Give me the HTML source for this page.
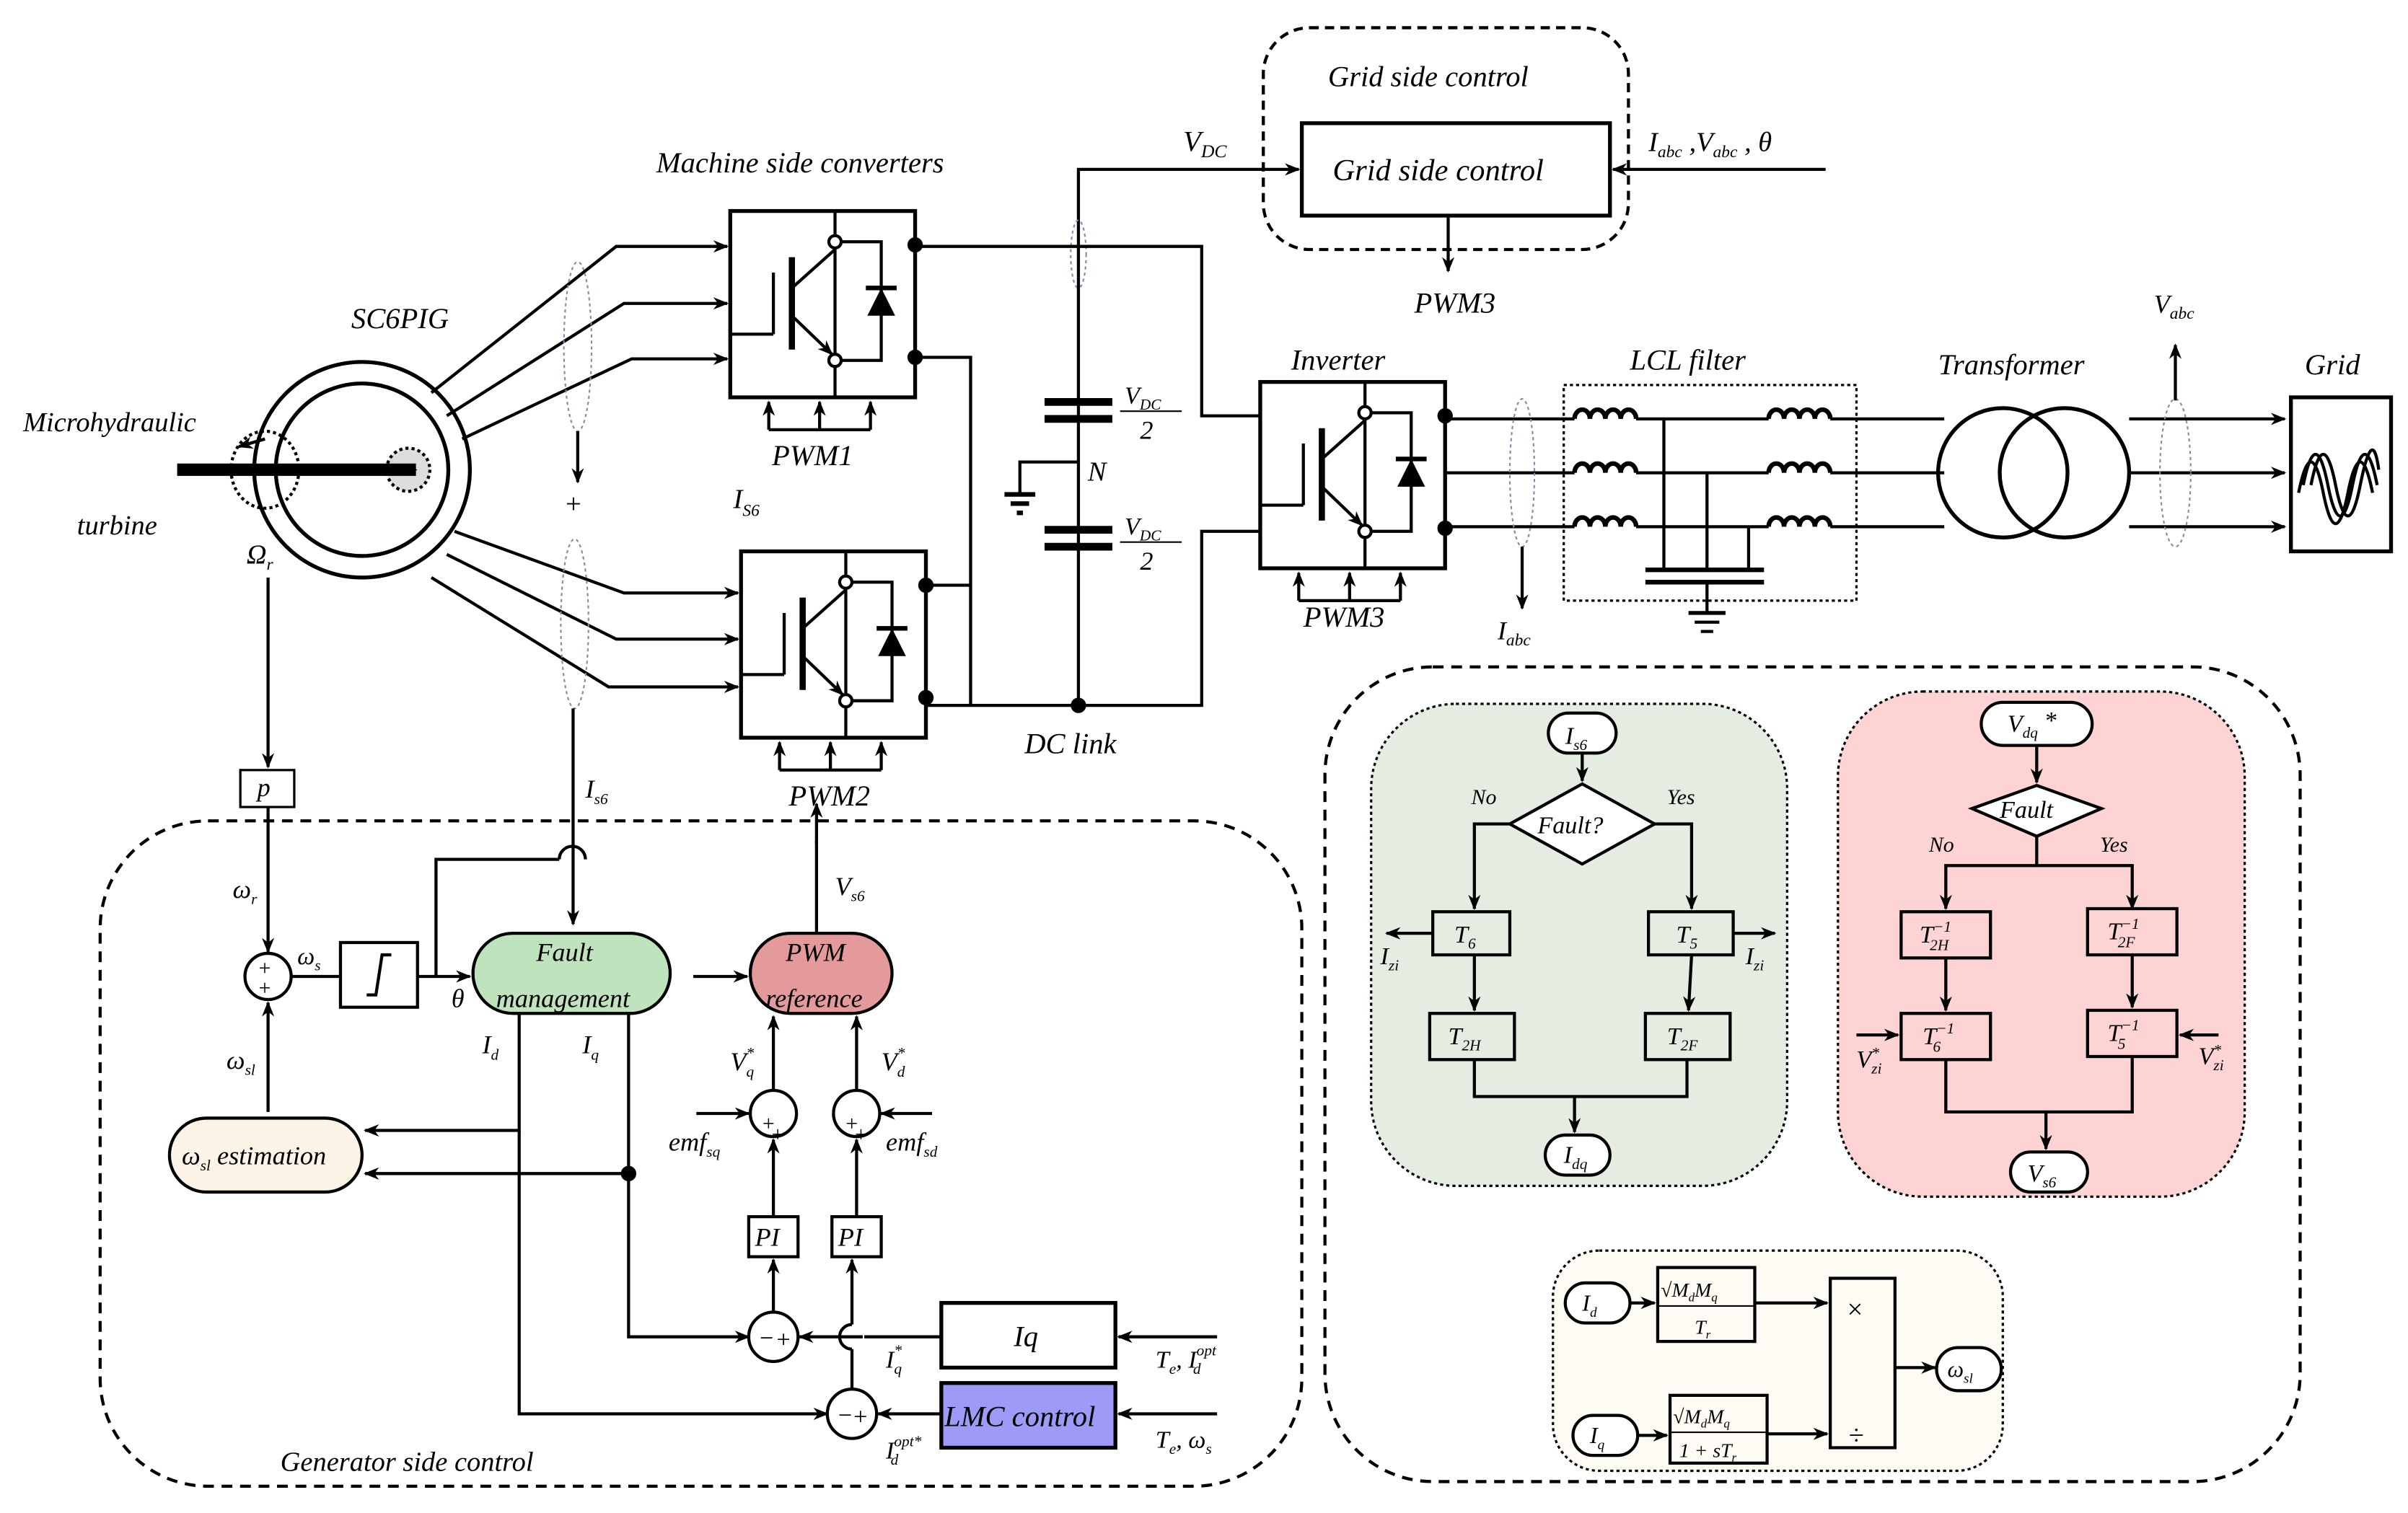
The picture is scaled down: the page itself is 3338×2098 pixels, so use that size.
<!DOCTYPE html>
<html><head><meta charset="utf-8"><style>
html,body{margin:0;padding:0;background:#fff}
svg{display:block}
text{font-family:"Liberation Serif",serif;font-style:italic;fill:#000}
</style></head><body>
<svg width="3338" height="2098" viewBox="0 0 1563 982.4" preserveAspectRatio="none" xmlns="http://www.w3.org/2000/svg">
<defs>
<marker id="a" markerWidth="10" markerHeight="8" refX="9" refY="4" orient="auto" markerUnits="userSpaceOnUse"><path d="M0,0 L10,4 L0,8 L3,4z" fill="#000"/></marker>
<g id="sw">
<rect x="0" y="0" width="120" height="121" fill="none" stroke="#000" stroke-width="2.5"/>
<line x1="68" y1="0" x2="68" y2="121" stroke="#000" stroke-width="2"/>
<line x1="40" y1="30" x2="40" y2="90" stroke="#000" stroke-width="4"/>
<line x1="28" y1="40" x2="28" y2="80" stroke="#000" stroke-width="2"/>
<line x1="0" y1="80" x2="28" y2="80" stroke="#000" stroke-width="2"/>
<line x1="40" y1="50" x2="68" y2="25" stroke="#000" stroke-width="2"/>
<line x1="40" y1="68" x2="66" y2="93" stroke="#000" stroke-width="2" marker-end="url(#a)"/>
<polyline points="68,20 98,20 98,97 68,97" fill="none" stroke="#000" stroke-width="2"/>
<path d="M89,68 L107,68 L98,50z" fill="#000"/><line x1="88" y1="50" x2="108" y2="50" stroke="#000" stroke-width="3"/>
<circle cx="68" cy="20" r="4" fill="#fff" stroke="#000" stroke-width="2"/>
<circle cx="68" cy="97" r="4" fill="#fff" stroke="#000" stroke-width="2"/>
<circle cx="120" cy="22" r="5" fill="#000"/><circle cx="120" cy="95" r="5" fill="#000"/>
<line x1="25" y1="142" x2="25" y2="124" stroke="#000" stroke-width="2" marker-end="url(#a)"/>
<line x1="58" y1="142" x2="58" y2="124" stroke="#000" stroke-width="2" marker-end="url(#a)"/>
<line x1="91" y1="142" x2="91" y2="124" stroke="#000" stroke-width="2" marker-end="url(#a)"/>
<line x1="25" y1="142" x2="91" y2="142" stroke="#000" stroke-width="2"/>
</g>
<g id="coil" fill="none" stroke="#000" stroke-width="3"><path d="M0,0 a5,6 0 0 1 10,0 a5,6 0 0 1 10,0 a5,6 0 0 1 10,0 a5,6 0 0 1 10,0"/></g>
</defs>

<g stroke="#000" stroke-width="2" fill="none">
<rect x="820" y="18" width="237" height="144" rx="30" stroke-dasharray="6,4"/>
<rect x="845" y="80" width="200" height="60" stroke-width="2.5"/>
<polyline points="700,180 700,110 843,110" marker-end="url(#a)"/>
<line x1="1185" y1="110" x2="1047" y2="110" marker-end="url(#a)"/>
<line x1="940" y1="140" x2="940" y2="176" marker-end="url(#a)"/>

<circle cx="235" cy="305" r="70" stroke-width="2.5"/>
<circle cx="235" cy="305" r="56" stroke-width="2.5"/>
<circle cx="265" cy="305" r="14" fill="#ddd" stroke-dasharray="2,2"/>
<line x1="115" y1="305" x2="270" y2="305" stroke-width="8" marker-end="url(#a)"/>
<ellipse cx="172" cy="305" rx="22" ry="25" stroke-dasharray="2,2"/>
<line x1="172" y1="285" x2="155" y2="290" marker-end="url(#a)"/>

<polyline points="280,255 400,160 472,160" marker-end="url(#a)"/>
<polyline points="290,270 405,197 472,197" marker-end="url(#a)"/>
<polyline points="300,285 410,233 472,233" marker-end="url(#a)"/>
<polyline points="295,345 405,385 479,385" marker-end="url(#a)"/>
<polyline points="290,360 400,415 479,415" marker-end="url(#a)"/>
<polyline points="280,375 395,446 479,446" marker-end="url(#a)"/>
<ellipse cx="375" cy="225" rx="9" ry="55" stroke="#88a" stroke-width="1" stroke-dasharray="2,2"/>
<ellipse cx="373" cy="405" rx="9" ry="55" stroke="#88a" stroke-width="1" stroke-dasharray="2,2"/>
<line x1="375" y1="280" x2="375" y2="313" marker-end="url(#a)"/>
<line x1="372" y1="460" x2="372" y2="600" marker-end="url(#a)"/>
<ellipse cx="700" cy="165" rx="5" ry="22" stroke="#88a" stroke-width="1" stroke-dasharray="2,2"/>

<polyline points="594,160 780,160 780,270 818,270"/>
<polyline points="594,232 630,232 630,458"/>
<polyline points="601,380 630,380"/>
<polyline points="601,458 780,458 780,345 818,345"/>
<line x1="700" y1="180" x2="700" y2="458"/>
<line x1="678" y1="261" x2="722" y2="261" stroke-width="5"/>
<line x1="678" y1="272" x2="722" y2="272" stroke-width="5"/>
<line x1="678" y1="344" x2="722" y2="344" stroke-width="5"/>
<line x1="678" y1="355" x2="722" y2="355" stroke-width="5"/>
<polyline points="700,300 662,300 662,320"/>
<line x1="652" y1="321" x2="672" y2="321" stroke-width="3"/>
<line x1="656" y1="327" x2="668" y2="327" stroke-width="3"/>
<line x1="660" y1="333" x2="664" y2="333" stroke-width="3"/>
</g>
<circle cx="700" cy="458" r="5"/>
<use href="#sw" x="474" y="137"/>
<use href="#sw" x="481" y="358"/>
<use href="#sw" x="818" y="248"/>
<line x1="530" y1="548" x2="530" y2="522" stroke="#000" stroke-width="2" marker-end="url(#a)"/>

<g stroke="#000" stroke-width="2" fill="none">
<line x1="938" y1="272" x2="1022" y2="272"/><line x1="938" y1="307" x2="1022" y2="307"/><line x1="938" y1="342" x2="1022" y2="342"/>
<ellipse cx="988" cy="307" rx="8" ry="48" stroke="#88a" stroke-width="1" stroke-dasharray="2,2"/>
<line x1="988" y1="355" x2="988" y2="395" marker-end="url(#a)"/>
<rect x="1015" y="250" width="190" height="140" stroke-dasharray="2,2" stroke-width="1.5"/>
<line x1="1062" y1="272" x2="1148" y2="272"/><line x1="1062" y1="307" x2="1148" y2="307"/><line x1="1062" y1="342" x2="1148" y2="342"/>
<line x1="1188" y1="272" x2="1262" y2="272"/><line x1="1188" y1="307" x2="1262" y2="307"/><line x1="1188" y1="342" x2="1262" y2="342"/>
<line x1="1080" y1="272" x2="1080" y2="370"/><line x1="1108" y1="307" x2="1108" y2="370"/><line x1="1135" y1="342" x2="1135" y2="370"/>
<line x1="1068" y1="370" x2="1145" y2="370" stroke-width="3"/><line x1="1068" y1="378" x2="1145" y2="378" stroke-width="3"/>
<line x1="1108" y1="378" x2="1108" y2="398"/>
<line x1="1096" y1="398" x2="1120" y2="398" stroke-width="2.5"/><line x1="1100" y1="404" x2="1116" y2="404"/><line x1="1104" y1="410" x2="1112" y2="410"/>
<circle cx="1300" cy="307" r="42" stroke-width="2.5"/><circle cx="1340" cy="307" r="42" stroke-width="2.5"/>
<line x1="1382" y1="272" x2="1483" y2="272" marker-end="url(#a)"/>
<line x1="1382" y1="307" x2="1483" y2="307" marker-end="url(#a)"/>
<line x1="1382" y1="342" x2="1483" y2="342" marker-end="url(#a)"/>
<ellipse cx="1412" cy="307" rx="10" ry="48" stroke="#88a" stroke-width="1" stroke-dasharray="2,2"/>
<line x1="1412" y1="260" x2="1412" y2="224" marker-end="url(#a)"/>
<rect x="1487" y="258" width="65" height="100" stroke-width="2.5"/>
<path d="M1495,315 q8,-40 16,0 t16,0 t16,0 M1500,315 q8,-40 16,0 t16,0 t12,-10 M1492,320 q8,-40 16,0 t16,0 t16,0"/>
</g>
<use href="#coil" x="1022" y="272"/><use href="#coil" x="1022" y="307"/><use href="#coil" x="1022" y="342"/>
<use href="#coil" x="1148" y="272"/><use href="#coil" x="1148" y="307"/><use href="#coil" x="1148" y="342"/>

<text x="862" y="56" font-size="19">Grid side control</text>
<text x="865" y="117" font-size="20">Grid side control</text>
<text x="768" y="98" font-size="19">V<tspan font-size="12" dy="4">DC</tspan></text>
<text x="1070" y="98" font-size="18">I<tspan font-size="11" dy="4">abc</tspan><tspan dy="-4"> ,V</tspan><tspan font-size="11" dy="4">abc</tspan><tspan dy="-4"> ,  θ</tspan></text>
<text x="918" y="203" font-size="19">PWM3</text>
<text x="426" y="112" font-size="19">Machine side converters</text>
<text x="228" y="213" font-size="19">SC6PIG</text>
<text x="15" y="280" font-size="18">Microhydraulic</text>
<text x="50" y="347" font-size="18">turbine</text>
<text x="160" y="366" font-size="18">Ω<tspan font-size="11" dy="4">r</tspan></text>
<text x="501" y="302" font-size="19">PWM1</text>
<text x="476" y="330" font-size="18">I<tspan font-size="11" dy="5">S6</tspan></text>
<text x="366" y="333" font-size="18">+</text>
<text x="730" y="262" font-size="16">V<tspan font-size="10" dy="4">DC</tspan></text><line x1="727" y1="267" x2="767" y2="267" stroke="#000"/><text x="740" y="285" font-size="17">2</text>
<text x="730" y="347" font-size="16">V<tspan font-size="10" dy="4">DC</tspan></text><line x1="727" y1="352" x2="767" y2="352" stroke="#000"/><text x="740" y="370" font-size="17">2</text>
<text x="706" y="312" font-size="18">N</text>
<text x="665" y="489" font-size="19">DC link</text>
<text x="512" y="523" font-size="19">PWM2</text>
<text x="838" y="240" font-size="19">Inverter</text>
<text x="846" y="407" font-size="19">PWM3</text>
<text x="972" y="415" font-size="17">I<tspan font-size="11" dy="4">abc</tspan></text>
<text x="1058" y="240" font-size="19">LCL filter</text>
<text x="1258" y="243" font-size="19">Transformer</text>
<text x="1398" y="203" font-size="17">V<tspan font-size="11" dy="4">abc</tspan></text>
<text x="1496" y="243" font-size="19">Grid</text>

<g stroke="#000" stroke-width="2" fill="none">
<rect x="65" y="533" width="780" height="432" rx="70" stroke-dasharray="7,5"/>
<line x1="174" y1="375" x2="174" y2="498" marker-end="url(#a)"/>
<rect x="156" y="500" width="35" height="24" stroke-width="1.5"/>
<line x1="174" y1="524" x2="174" y2="618" marker-end="url(#a)"/>
<circle cx="174" cy="634" r="15"/>
<line x1="189" y1="634" x2="220" y2="634"/>
<rect x="221" y="612" width="50" height="42"/>
<path d="M238,646 L244,646 L248,620 L254,620"/>
<line x1="271" y1="634" x2="305" y2="634" marker-end="url(#a)"/>
<polyline points="283,634 283,558 363,558 M380,558 450,558 450,634"/>
<path d="M363,558 a8,8 0 0 1 17,0" />
<line x1="450" y1="634" x2="485" y2="634" marker-end="url(#a)"/>
<rect x="307" y="606" width="128" height="52" rx="26" fill="#bfe3bc"/>
<rect x="487" y="606" width="92" height="52" rx="26" fill="#e49a9a"/>
<line x1="530" y1="606" x2="530" y2="546"/>
<line x1="174" y1="722" x2="174" y2="651" marker-end="url(#a)"/>
<rect x="110" y="726" width="125" height="48" rx="24" fill="#fdf3e6"/>
<polyline points="337,658 337,734 237,734" marker-end="url(#a)"/>
<polyline points="408,658 408,762 237,762" marker-end="url(#a)"/>
<polyline points="337,734 337,918 537,918" marker-end="url(#a)"/>
<polyline points="408,762 408,868 486,868" marker-end="url(#a)"/>
<circle cx="408" cy="762" r="4" fill="#000"/>
<circle cx="502" cy="723" r="15"/><circle cx="556" cy="723" r="15"/>
<line x1="502" y1="708" x2="502" y2="660" marker-end="url(#a)"/>
<line x1="556" y1="708" x2="556" y2="660" marker-end="url(#a)"/>
<line x1="452" y1="723" x2="486" y2="723" marker-end="url(#a)"/>
<line x1="605" y1="723" x2="572" y2="723" marker-end="url(#a)"/>
<rect x="486" y="790" width="32" height="26"/><rect x="540" y="790" width="32" height="26"/>
<line x1="502" y1="790" x2="502" y2="740" marker-end="url(#a)"/>
<line x1="556" y1="790" x2="556" y2="740" marker-end="url(#a)"/>
<circle cx="502" cy="868" r="16"/>
<line x1="502" y1="852" x2="502" y2="818" marker-end="url(#a)"/>
<circle cx="553" cy="918" r="16"/>
<line x1="553" y1="902" x2="553" y2="876"/>
<line x1="553" y1="860" x2="553" y2="818" marker-end="url(#a)"/>
<path d="M553,876 a8,8 0 0 1 0,-16"/>
<rect x="611" y="846" width="113" height="42" stroke-width="2.5"/>
<rect x="611" y="898" width="113" height="42" stroke-width="2.5" fill="#9e9af7"/>
<line x1="560" y1="868" x2="545" y2="868"/>
<line x1="611" y1="868" x2="561" y2="868"/>
<line x1="545" y1="868" x2="519" y2="868" marker-end="url(#a)"/>
<line x1="611" y1="918" x2="570" y2="918" marker-end="url(#a)"/>
<line x1="790" y1="868" x2="726" y2="868" marker-end="url(#a)"/>
<line x1="790" y1="918" x2="726" y2="918" marker-end="url(#a)"/>
</g>
<text x="167" y="517" font-size="17">p</text>
<text x="167" y="633" font-size="14">+</text><text x="167" y="646" font-size="14">+</text>
<text x="494" y="734" font-size="14">+</text><text x="500" y="741" font-size="14">+</text>
<text x="548" y="734" font-size="14">+</text><text x="554" y="741" font-size="14">+</text>
<text x="151" y="583" font-size="17">ω<tspan font-size="10" dy="4">r</tspan></text>
<text x="193" y="626" font-size="16">ω<tspan font-size="10" dy="4">s</tspan></text>
<text x="293" y="654" font-size="17">θ</text>
<text x="147" y="694" font-size="17">ω<tspan font-size="10" dy="4">sl</tspan></text>
<text x="118" y="756" font-size="17">ω<tspan font-size="10" dy="4">sl</tspan><tspan dy="-4"> estimation</tspan></text>
<text x="348" y="624" font-size="17">Fault</text>
<text x="322" y="654" font-size="17">management</text>
<text x="510" y="624" font-size="17">PWM</text>
<text x="497" y="654" font-size="17">reference</text>
<text x="380" y="518" font-size="17">I<tspan font-size="10" dy="4">s6</tspan></text>
<text x="542" y="581" font-size="17">V<tspan font-size="10" dy="4">s6</tspan></text>
<text x="313" y="684" font-size="17">I<tspan font-size="10" dy="4">d</tspan></text>
<text x="378" y="684" font-size="17">I<tspan font-size="10" dy="4">q</tspan></text>
<text x="474" y="695" font-size="17">V<tspan font-size="10" dy="-8">*</tspan><tspan font-size="10" dx="-5" dy="12">q</tspan></text>
<text x="572" y="695" font-size="17">V<tspan font-size="10" dy="-8">*</tspan><tspan font-size="10" dx="-5" dy="12">d</tspan></text>
<text x="434" y="747" font-size="17">emf<tspan font-size="10" dy="4">sq</tspan></text>
<text x="575" y="747" font-size="17">emf<tspan font-size="10" dy="4">sd</tspan></text>
<text x="490" y="809" font-size="17">PI</text><text x="544" y="809" font-size="17">PI</text>
<text x="492" y="874" font-size="16">−</text><text x="503" y="875" font-size="16">+</text>
<text x="543" y="924" font-size="16">−</text><text x="553" y="925" font-size="16">+</text>
<text x="658" y="874" font-size="19">Iq</text>
<text x="613" y="926" font-size="19">LMC control</text>
<text x="575" y="888" font-size="16">I<tspan font-size="10" dy="-8">*</tspan><tspan font-size="10" dx="-5" dy="12">q</tspan></text>
<text x="575" y="947" font-size="16">I<tspan font-size="10" dy="-8">opt*</tspan><tspan font-size="10" dx="-20" dy="12">d</tspan></text>
<text x="750" y="888" font-size="16">T<tspan font-size="10" dy="4">e</tspan><tspan dy="-4">,  I</tspan><tspan font-size="10" dy="-8">opt</tspan><tspan font-size="10" dx="-15" dy="12">d</tspan></text>
<text x="750" y="940" font-size="16">T<tspan font-size="10" dy="4">e</tspan><tspan dy="-4">,  ω</tspan><tspan font-size="10" dy="4">s</tspan></text>
<text x="182" y="955" font-size="18">Generator side control</text>

<g stroke="#000" stroke-width="2" fill="none">
<rect x="860" y="433" width="633" height="529" rx="70" stroke-dasharray="7,5"/>
<rect x="890" y="457" width="270" height="313" rx="55" fill="#e5ece1" stroke-dasharray="2,2" stroke-width="1.5"/>
<rect x="1193" y="449" width="264" height="328" rx="55" fill="#fdd3d3" stroke-dasharray="2,2" stroke-width="1.5"/>
<rect x="1008" y="812" width="292" height="143" rx="30" fill="#fdfbf3" stroke-dasharray="2,2" stroke-width="1.5"/>
<rect x="1005" y="463" width="44" height="26" rx="13" fill="#fff"/>
<line x1="1027" y1="489" x2="1027" y2="507" marker-end="url(#a)"/>
<path d="M980,535 L1027,509 L1074,535 L1027,561z" fill="#fff"/>
<polyline points="980,535 957,535 957,590" marker-end="url(#a)"/>
<polyline points="1074,535 1098,535 1098,590" marker-end="url(#a)"/>
<rect x="930" y="592" width="50" height="28"/><rect x="1070" y="592" width="55" height="28"/>
<line x1="930" y1="606" x2="900" y2="606" marker-end="url(#a)"/>
<line x1="1125" y1="606" x2="1152" y2="606" marker-end="url(#a)"/>
<line x1="957" y1="620" x2="957" y2="656" marker-end="url(#a)"/>
<line x1="1098" y1="620" x2="1096" y2="656" marker-end="url(#a)"/>
<rect x="928" y="658" width="55" height="30"/><rect x="1068" y="658" width="55" height="30"/>
<polyline points="957,688 957,712 1095,712 1095,688"/>
<line x1="1022" y1="712" x2="1022" y2="735" marker-end="url(#a)"/>
<rect x="1003" y="737" width="42" height="26" rx="13" fill="#fff"/>
<rect x="1286" y="456" width="72" height="28" rx="14" fill="#fff"/>
<line x1="1322" y1="484" x2="1322" y2="508" marker-end="url(#a)"/>
<path d="M1280,525 L1322,510 L1364,525 L1322,543z" fill="#fff"/>
<polyline points="1322,543 1322,562 1263,562 1263,590" marker-end="url(#a)"/>
<polyline points="1322,562 1384,562 1384,590" marker-end="url(#a)"/>
<rect x="1234" y="592" width="58" height="30"/><rect x="1355" y="590" width="58" height="30"/>
<line x1="1263" y1="622" x2="1263" y2="656" marker-end="url(#a)"/>
<line x1="1384" y1="620" x2="1384" y2="654" marker-end="url(#a)"/>
<rect x="1234" y="658" width="58" height="30"/><rect x="1355" y="656" width="58" height="30"/>
<line x1="1205" y1="672" x2="1232" y2="672" marker-end="url(#a)"/>
<line x1="1440" y1="672" x2="1415" y2="672" marker-end="url(#a)"/>
<polyline points="1263,688 1263,722 1384,722 1384,686"/>
<line x1="1328" y1="722" x2="1328" y2="746" marker-end="url(#a)"/>
<rect x="1305" y="748" width="50" height="26" rx="13" fill="#fff"/>
<rect x="1016" y="833" width="42" height="26" rx="13" fill="#fff"/>
<line x1="1058" y1="846" x2="1074" y2="846" marker-end="url(#a)"/>
<rect x="1076" y="823" width="63" height="48"/>
<line x1="1076" y1="848" x2="1139" y2="848" stroke-width="1"/>
<line x1="1139" y1="846" x2="1186" y2="846" marker-end="url(#a)"/>
<rect x="1188" y="830" width="42" height="110"/>
<line x1="1230" y1="888" x2="1256" y2="888" marker-end="url(#a)"/>
<rect x="1257" y="875" width="42" height="28" rx="14" fill="#fff"/>
<rect x="1021" y="919" width="42" height="26" rx="13" fill="#fff"/>
<line x1="1063" y1="932" x2="1082" y2="932" marker-end="url(#a)"/>
<rect x="1084" y="906" width="63" height="44"/>
<line x1="1084" y1="930" x2="1147" y2="930" stroke-width="1"/>
<line x1="1147" y1="931" x2="1186" y2="931" marker-end="url(#a)"/>
</g>
<text x="1016" y="483" font-size="16">I<tspan font-size="10" dy="4">s6</tspan></text>
<text x="955" y="522" font-size="14">No</text><text x="1082" y="522" font-size="14">Yes</text>
<text x="998" y="541" font-size="16">Fault?</text>
<text x="944" y="612" font-size="16">T<tspan font-size="10" dy="4">6</tspan></text>
<text x="1088" y="612" font-size="16">T<tspan font-size="10" dy="4">5</tspan></text>
<text x="896" y="626" font-size="16">I<tspan font-size="10" dy="4">zi</tspan></text>
<text x="1133" y="626" font-size="16">I<tspan font-size="10" dy="4">zi</tspan></text>
<text x="940" y="678" font-size="16">T<tspan font-size="10" dy="4">2H</tspan></text>
<text x="1082" y="678" font-size="16">T<tspan font-size="10" dy="4">2F</tspan></text>
<text x="1015" y="755" font-size="16">I<tspan font-size="10" dy="4">dq</tspan></text>
<text x="1303" y="475" font-size="16">V<tspan font-size="10" dy="4">dq</tspan><tspan dy="-6"> *</tspan></text>
<text x="1298" y="531" font-size="16">Fault</text>
<text x="1252" y="553" font-size="14">No</text><text x="1363" y="553" font-size="14">Yes</text>
<text x="1246" y="612" font-size="16">T<tspan font-size="10" dy="-7">−1</tspan><tspan font-size="10" dx="-14" dy="12">2H</tspan></text>
<text x="1368" y="610" font-size="16">T<tspan font-size="10" dy="-7">−1</tspan><tspan font-size="10" dx="-14" dy="12">2F</tspan></text>
<text x="1248" y="678" font-size="16">T<tspan font-size="10" dy="-7">−1</tspan><tspan font-size="10" dx="-14" dy="12">6</tspan></text>
<text x="1368" y="676" font-size="16">T<tspan font-size="10" dy="-7">−1</tspan><tspan font-size="10" dx="-14" dy="12">5</tspan></text>
<text x="1205" y="693" font-size="16">V<tspan font-size="10" dy="-6">*</tspan><tspan font-size="10" dx="-5" dy="10">zi</tspan></text>
<text x="1427" y="691" font-size="16">V<tspan font-size="10" dy="-6">*</tspan><tspan font-size="10" dx="-5" dy="10">zi</tspan></text>
<text x="1316" y="767" font-size="16">V<tspan font-size="10" dy="4">s6</tspan></text>
<text x="1027" y="851" font-size="15">I<tspan font-size="9" dy="4">d</tspan></text>
<text x="1078" y="842" font-size="13">√M<tspan font-size="8" dy="3">d</tspan><tspan dy="-3">M</tspan><tspan font-size="8" dy="3">q</tspan></text>
<text x="1100" y="866" font-size="13">T<tspan font-size="8" dy="3">r</tspan></text>
<text x="1032" y="937" font-size="15">I<tspan font-size="9" dy="4">q</tspan></text>
<text x="1086" y="924" font-size="13">√M<tspan font-size="8" dy="3">d</tspan><tspan dy="-3">M</tspan><tspan font-size="8" dy="3">q</tspan></text>
<text x="1090" y="946" font-size="13">1 + sT<tspan font-size="8" dy="3">r</tspan></text>
<text x="1199" y="856" font-size="18" style="font-style:normal">×</text>
<text x="1200" y="938" font-size="18" style="font-style:normal">÷</text>
<text x="1264" y="894" font-size="15">ω<tspan font-size="9" dy="4">sl</tspan></text>
</svg>
</body></html>
